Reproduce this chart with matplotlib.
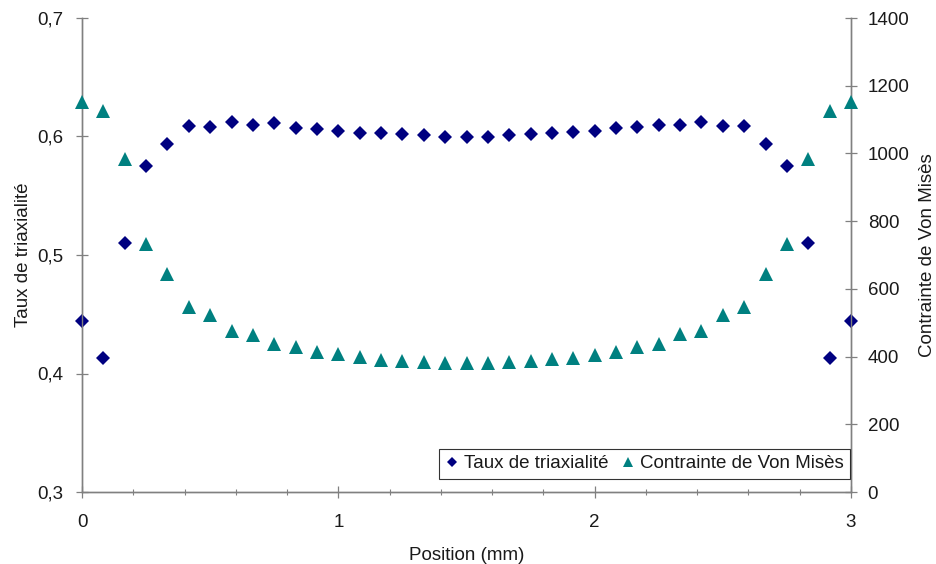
import matplotlib
matplotlib.use("Agg")
import matplotlib.pyplot as plt
from matplotlib.ticker import MultipleLocator, FuncFormatter
import numpy as np

plt.rcParams['font.family'] = ['Liberation Sans', 'DejaVu Sans']

# Data
position = [i * 3 / 36 for i in range(37)]
triaxialite = [0.444, 0.413, 0.510, 0.575, 0.594, 0.609, 0.608, 0.612, 0.610, 0.611,
               0.607, 0.606, 0.605, 0.603, 0.603, 0.602, 0.601, 0.600, 0.600, 0.600,
               0.601, 0.602, 0.603, 0.604, 0.605, 0.607, 0.608, 0.610, 0.610, 0.612,
               0.609, 0.609, 0.594, 0.575, 0.510, 0.413, 0.444]
von_mises = [1151, 1125, 984, 732, 643, 547, 522, 477, 464, 436,
             428, 413, 407, 398, 390, 387, 385, 382, 382, 382,
             385, 387, 392, 397, 405, 413, 428, 436, 466, 477,
             522, 547, 643, 732, 984, 1125, 1151]

label_tri = "Taux de triaxialité"
label_vm = "Contrainte de Von Misès"
xlabel = "Position (mm)"

navy = '#000080'
teal = '#008080'
gray = '#808080'
txt = '#1a1a1a'
fs = 13.5

fig = plt.figure(figsize=(9.36, 5.64), dpi=100)
ax = fig.add_axes([82/936, 1-492/564, (851-82)/936, (492-18)/564])
ax2 = ax.twinx()

h1, = ax.plot(position, triaxialite, linestyle='none', marker='D', ms=7.2,
              color=navy, mew=0, label=label_tri, clip_on=False, zorder=3)
h2, = ax2.plot(position, von_mises, linestyle='none', marker='^', ms=9.5,
               color=teal, mew=0, label=label_vm, clip_on=False, zorder=3)

ax.set_xlim(0, 3)
ax.set_ylim(0.3, 0.7)
ax2.set_ylim(0, 1400)

ax.xaxis.set_major_locator(MultipleLocator(1))
ax.xaxis.set_minor_locator(MultipleLocator(0.2))
ax.yaxis.set_major_locator(MultipleLocator(0.1))
ax2.yaxis.set_major_locator(MultipleLocator(200))

comma = FuncFormatter(lambda v, p: f"{v:.1f}".replace('.', ','))
ax.yaxis.set_major_formatter(comma)
ax.xaxis.set_major_formatter(FuncFormatter(lambda v, p: f"{v:.0f}"))

for a in (ax, ax2):
    a.spines['top'].set_visible(False)
    for s in ('left', 'right', 'bottom'):
        a.spines[s].set_color(gray)
        a.spines[s].set_linewidth(1.0)
    a.set_facecolor('none')

ax.tick_params(axis='y', which='major', direction='inout', length=8, width=0.9,
               color=gray, labelsize=fs, labelcolor=txt, pad=9.5)
ax2.tick_params(axis='y', which='major', direction='inout', length=8, width=0.9,
                color=gray, labelsize=fs, labelcolor=txt, pad=8)
ax.tick_params(axis='x', which='major', direction='inout', length=8, width=0.9,
               color=gray, labelsize=fs, labelcolor=txt, pad=12)
ax.tick_params(axis='x', which='minor', direction='inout', length=4, width=0.8,
               color=gray)

ax.set_ylabel(label_tri, fontsize=fs, color=txt, labelpad=3.5)
ax2.set_ylabel(label_vm, fontsize=fs, color=txt, rotation=90, labelpad=7)
ax.set_xlabel(xlabel, fontsize=fs, color=txt, labelpad=11.5)

leg = ax2.legend(handles=[h1, h2], loc='lower right', ncol=2,
                 bbox_to_anchor=(850/936, 1-479/564), bbox_transform=fig.transFigure,
                 fontsize=fs, frameon=True, fancybox=False, borderpad=0.35,
                 handlelength=0.7, handletextpad=0.3, columnspacing=0.65,
                 markerscale=0.75, borderaxespad=0)
leg.get_frame().set_edgecolor('#000000')
leg.get_frame().set_linewidth(0.8)
for t in leg.get_texts():
    t.set_color(txt)

fig.savefig('out.png', dpi=100)
